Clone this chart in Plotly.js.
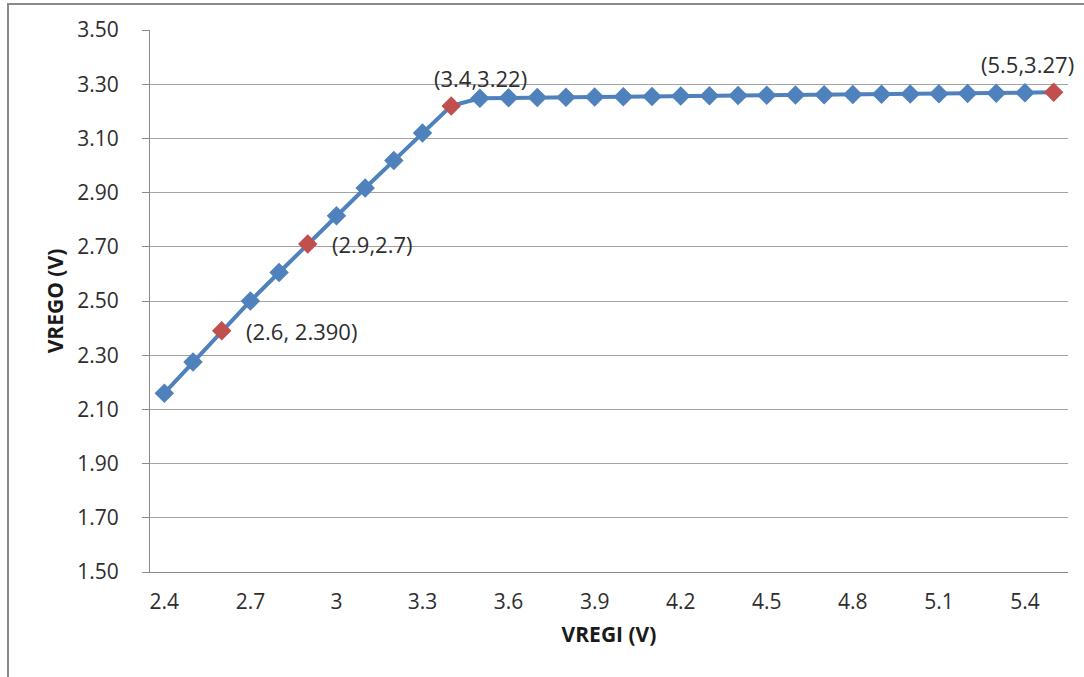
<!DOCTYPE html>
<html>
<head>
<meta charset="utf-8">
<script src="https://cdn.plot.ly/plotly-3.0.1.min.js"></script>
<style>
  html, body { margin: 0; padding: 0; background: #fff; }
  #wrap { position: relative; width: 1084px; height: 677px; overflow: hidden; }
  #frame { position: absolute; left: 7px; top: 3px; width: 1200px; height: 800px;
           border-left: 2px solid #8a8a8a; border-top: 2px solid #8a8a8a; pointer-events: none; }
  #chart { position: absolute; left: 0; top: 0; width: 1084px; height: 677px; }
</style>
</head>
<body>
<div id="wrap">
  <div id="chart"></div>
  <div id="frame"></div>
</div>
<script>
// VREGI (V) input voltages
const vregi = [2.4, 2.5, 2.6, 2.7, 2.8, 2.9, 3.0, 3.1, 3.2, 3.3, 3.4,
               3.5, 3.6, 3.7, 3.8, 3.9, 4.0, 4.1, 4.2, 4.3, 4.4,
               4.5, 4.6, 4.7, 4.8, 4.9, 5.0, 5.1, 5.2, 5.3, 5.4, 5.5];
// VREGO (V) output voltages
const vrego = [2.16, 2.275, 2.39, 2.50, 2.605, 2.71, 2.815, 2.917, 3.018, 3.12, 3.22,
               3.248, 3.250, 3.251, 3.252, 3.253, 3.254, 3.255, 3.256, 3.257, 3.258,
               3.259, 3.260, 3.261, 3.262, 3.263, 3.264, 3.265, 3.266, 3.267, 3.268, 3.27];
// Highlighted (labelled) points
const highlightX = [2.6, 2.9, 3.4, 5.5];
const highlightLabels = ["(2.6, 2.390)", "(2.9,2.7)", "(3.4,3.22)", "(5.5,3.27)"];
// X tick labels
const xTickVals = [2.4, 2.7, 3.0, 3.3, 3.6, 3.9, 4.2, 4.5, 4.8, 5.1, 5.4];
const xTickText = ["2.4", "2.7", "3", "3.3", "3.6", "3.9", "4.2", "4.5", "4.8", "5.1", "5.4"];

const BLUE = "#4f81bd", RED = "#c0504d";
const isHL = x => highlightX.some(h => Math.abs(h - x) < 1e-9);
const markerColors = vregi.map(x => isHL(x) ? RED : BLUE);

const FONT = "Open Sans, Noto Sans, sans-serif";
const TXT = "#2e2e2e";

const trace = {
  x: vregi, y: vrego, type: "scatter", mode: "lines+markers",
  line: { color: BLUE, width: 4 },
  marker: { symbol: "diamond", size: 15, color: markerColors, line: { width: 0 } },
  hoverinfo: "x+y"
};

// label placement styles (offsets in px)
const labelStyle = [
  { xanchor: "left", xshift: 22, yshift: 0 },
  { xanchor: "left", xshift: 22, yshift: 0 },
  { xanchor: "center", xshift: 29, yshift: 28 },
  { xanchor: "center", xshift: -26, yshift: 28 }
];
const annotations = highlightX.map((hx, i) => {
  const idx = vregi.findIndex(v => Math.abs(v - hx) < 1e-9);
  return Object.assign({
    x: hx, y: vrego[idx], xref: "x", yref: "y", text: highlightLabels[i],
    showarrow: false, yanchor: "middle",
    font: { family: FONT, size: 22, color: TXT }
  }, labelStyle[i]);
});

const layout = {
  width: 1084, height: 677,
  margin: { l: 150, r: 16, t: 30, b: 105 },
  paper_bgcolor: "#ffffff", plot_bgcolor: "#ffffff",
  showlegend: false,
  font: { family: FONT, size: 21, color: TXT },
  xaxis: {
    range: [2.35, 5.55],
    tickmode: "array", tickvals: xTickVals, ticktext: xTickText,
    showgrid: false, zeroline: false,
    showline: true, linecolor: "#8a8a8a", linewidth: 1,
    ticks: "", ticklabelstandoff: 11,
    tickfont: { family: FONT, size: 21, color: TXT },
    title: { text: "<b>VREGI (V)</b>", standoff: 13,
             font: { family: FONT, size: 21, color: "#1a1a1a" } }
  },
  yaxis: {
    range: [1.5, 3.5], dtick: 0.2, tick0: 1.5, tickformat: ".2f",
    showgrid: true, gridcolor: "#a3a3a3", gridwidth: 1,
    zeroline: false,
    showline: true, linecolor: "#8a8a8a", linewidth: 1,
    ticks: "outside", ticklen: 7, tickcolor: "#8a8a8a", tickwidth: 1,
    ticklabelstandoff: 19,
    tickfont: { family: FONT, size: 21, color: TXT },
    title: { text: "<b>VREGO (V)</b>", standoff: 7,
             font: { family: FONT, size: 21, color: "#1a1a1a" } }
  },
  annotations: annotations
};

Plotly.newPlot("chart", [trace], layout, { displayModeBar: false, staticPlot: true });
</script>
</body>
</html>
